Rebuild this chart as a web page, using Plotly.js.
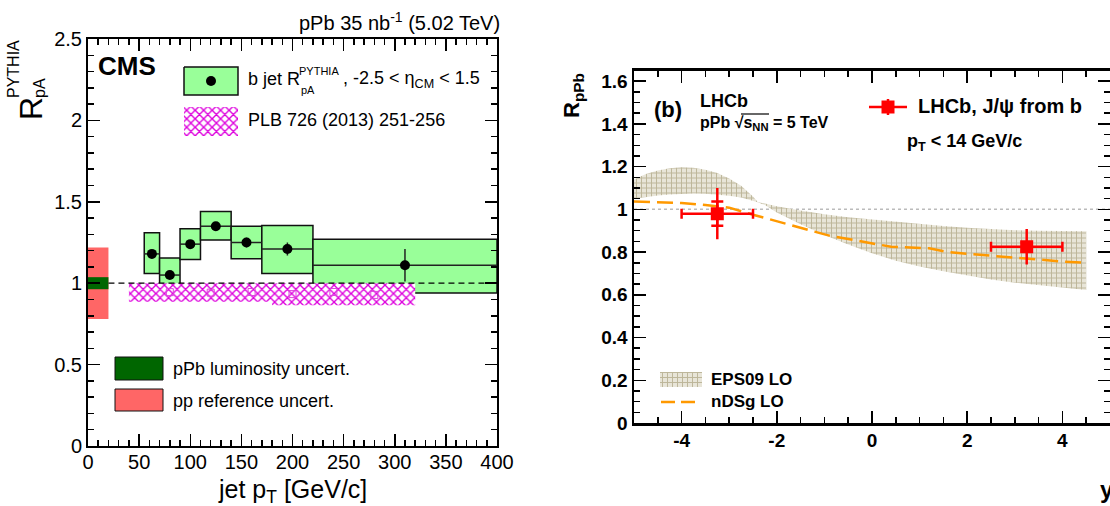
<!DOCTYPE html>
<html>
<head>
<meta charset="utf-8">
<script src="https://cdn.plot.ly/plotly-3.0.1.min.js"></script>
<style>
  html, body { margin: 0; padding: 0; background: #ffffff; }
  #chart { width: 1110px; height: 506px; }
</style>
</head>
<body>
<div id="chart"></div>
<script>
// ---------- (a) CMS: b-jet nuclear modification factor vs jet pT ----------
const binLow     = [55, 70, 90, 110, 140, 170, 220];
const binHigh    = [70, 90, 110, 140, 170, 220, 400];
const jetPt      = [62.5, 80, 100, 125, 155, 195, 310];
const rpA        = [1.18, 1.05, 1.24, 1.35, 1.25, 1.21, 1.11];
const rpAStat    = [0.02, 0.02, 0.025, 0.025, 0.03, 0.04, 0.10];
const rpASysUp   = [0.13, 0.105, 0.095, 0.09, 0.10, 0.145, 0.16];
const rpASysDown = [0.12, 0.11, 0.095, 0.085, 0.10, 0.15, 0.17];

// earlier measurement, PLB 726 (2013) 251-256
const plbEdges = [40, 100, 140, 180, 220, 260, 320];
const plbPt    = [80, 120, 160, 200, 240, 280];
const plbVal   = [0.945, 0.942, 0.946, 0.933, 0.946, 0.928];
const plbLow   = [0.886, 0.886, 0.886, 0.865, 0.865, 0.865];
const plbHigh  = [1.0, 1.0, 1.0, 1.0, 1.0, 1.0];

// global normalisation uncertainties, shown as boxes at low pT
const normPtRange = [0, 20];
const lumiUnc  = 0.037;
const ppRefUnc = 0.22;

// ---------- (b) LHCb: J/psi from b vs rapidity ----------
const rapidity     = [-3.25, 3.25];
const rapHalfWidth = [0.75, 0.75];
const rpPb         = [0.98, 0.825];
const rpPbTotal    = [0.12, 0.083];
const rpPbStat     = [0.057, 0.02];

// EPS09 LO band
const epsY    = [-5, -4.75, -4.5, -4.25, -4, -3.75, -3.5, -3.25, -3, -2.75, -2.5, -2.4, -2.25, -2, -1.5, -1, -0.5, 0, 0.5, 1, 1.5, 2, 2.5, 3, 3.5, 4, 4.5];
const epsHigh = [1.14, 1.165, 1.182, 1.193, 1.197, 1.195, 1.186, 1.17, 1.145, 1.11, 1.06, 1.035, 1.027, 1.015, 0.995, 0.977, 0.963, 0.952, 0.942, 0.932, 0.922, 0.914, 0.907, 0.902, 0.9, 0.898, 0.897];
const epsLow  = [1.05, 1.058, 1.065, 1.07, 1.073, 1.074, 1.073, 1.07, 1.064, 1.055, 1.04, 1.033, 1.02, 0.985, 0.93, 0.88, 0.835, 0.795, 0.76, 0.732, 0.71, 0.69, 0.672, 0.657, 0.645, 0.634, 0.623];

// nDSg LO curve
const ndsgY = [-5, -4, -3.5, -3, -2.5, -2, -1.7, -0.9, -0.5, 0, 0.4, 1.2, 1.6, 2, 2.5, 3, 3.3, 4, 4.5];
const ndsgR = [1.037, 1.03, 1.02, 1.008, 0.975, 0.945, 0.928, 0.877, 0.861, 0.84, 0.825, 0.818, 0.8, 0.792, 0.783, 0.773, 0.767, 0.756, 0.75];

// tick labels of the rapidity axis (plain hyphen minus)
const rapTickVals = [-4, -2, 0, 2, 4];
const rapTickText = ['-4', '-2', '0', '2', '4'];

// ---------- helpers ----------
const W = 1110, H = 506;
const px = v => v / W;
const py = v => 1 - v / H;
const FONT = 'Liberation Sans, Arial, Helvetica, sans-serif';

const magentaHatch = { shape: 'x', fgcolor: '#dd00dd', bgcolor: '#ffffff', size: 6, solidity: 0.4 };
const khakiHatch   = { shape: '+', fgcolor: '#bdb699', bgcolor: '#e8e5d8', size: 5, solidity: 0.35 };

function frameAxis(extra) {
  return Object.assign({
    showline: true, linecolor: 'black', linewidth: 2, mirror: 'allticks',
    ticks: 'inside', ticklen: 12, tickwidth: 1.5, tickcolor: 'black',
    showgrid: false, zeroline: false, fixedrange: true
  }, extra);
}
function minorTicks(d) {
  return { ticks: 'inside', ticklen: 6, tickwidth: 1.5, tickcolor: 'black', dtick: d, showgrid: false };
}
function ann(text, x, y, o) {
  return Object.assign({
    text: text, xref: 'paper', yref: 'paper', x: px(x), y: py(y),
    xanchor: 'left', yanchor: 'middle', showarrow: false,
    font: { family: FONT, size: 18, color: 'black' }
  }, o || {});
}

// ---------- traces, panel (a) ----------
const traces = [];

traces.push({
  type: 'bar', xaxis: 'x', yaxis: 'y',
  x: [(normPtRange[0] + normPtRange[1]) / 2], width: [normPtRange[1] - normPtRange[0]],
  base: [1 - ppRefUnc], y: [2 * ppRefUnc],
  marker: { color: '#ff6666', line: { width: 0 } }, hoverinfo: 'skip'
});
traces.push({
  type: 'bar', xaxis: 'x', yaxis: 'y',
  x: [(normPtRange[0] + normPtRange[1]) / 2], width: [normPtRange[1] - normPtRange[0]],
  base: [1 - lumiUnc], y: [2 * lumiUnc],
  marker: { color: '#006600', line: { width: 0 } }, hoverinfo: 'skip'
});

// systematic boxes
traces.push({
  type: 'bar', xaxis: 'x', yaxis: 'y',
  x: binLow.map((l, i) => (l + binHigh[i]) / 2),
  width: binLow.map((l, i) => binHigh[i] - l),
  base: rpA.map((v, i) => v - rpASysDown[i]),
  y: rpA.map((v, i) => rpASysUp[i] + rpASysDown[i]),
  marker: { color: '#99ff99', line: { color: '#111111', width: 1.5 } }, hoverinfo: 'skip'
});

// PLB band as a stepped outline
const plbX = [], plbYv = [];
for (let i = 0; i < plbPt.length; i++) { plbX.push(plbEdges[i], plbEdges[i + 1]); plbYv.push(plbHigh[i], plbHigh[i]); }
for (let i = plbPt.length - 1; i >= 0; i--) { plbX.push(plbEdges[i + 1], plbEdges[i]); plbYv.push(plbLow[i], plbLow[i]); }
traces.push({
  type: 'scatter', mode: 'lines', xaxis: 'x', yaxis: 'y',
  x: plbX, y: plbYv, fill: 'toself', fillcolor: '#ffffff', fillpattern: magentaHatch,
  line: { width: 0 }, hoverinfo: 'skip'
});
traces.push({
  type: 'scatter', mode: 'markers', xaxis: 'x', yaxis: 'y',
  x: plbPt, y: plbVal,
  marker: { symbol: 'square-open', size: 7, color: '#dd44dd', line: { width: 1 } }, hoverinfo: 'skip'
});

// b-jet points
traces.push({
  type: 'scatter', mode: 'markers', xaxis: 'x', yaxis: 'y',
  x: jetPt, y: rpA,
  marker: { symbol: 'circle', size: 10, color: 'black' },
  error_x: { type: 'data', symmetric: false,
             array: jetPt.map((p, i) => binHigh[i] - p),
             arrayminus: jetPt.map((p, i) => p - binLow[i]),
             color: '#222222', thickness: 1.5, width: 0 },
  error_y: { type: 'data', array: rpAStat, color: '#222222', thickness: 1.5, width: 0 },
  hoverinfo: 'skip'
});

// ---------- traces, panel (b) ----------
traces.push({
  type: 'scatter', mode: 'lines', xaxis: 'x2', yaxis: 'y2',
  x: epsY, y: epsLow, line: { width: 0 }, hoverinfo: 'skip'
});
traces.push({
  type: 'scatter', mode: 'lines', xaxis: 'x2', yaxis: 'y2',
  x: epsY, y: epsHigh, line: { width: 0 }, fill: 'tonexty',
  fillcolor: '#e8e5d8', fillpattern: khakiHatch, hoverinfo: 'skip'
});
traces.push({
  type: 'scatter', mode: 'lines', xaxis: 'x2', yaxis: 'y2',
  x: ndsgY, y: ndsgR, line: { color: '#ff9900', width: 2.5, dash: '16px,7px' }, hoverinfo: 'skip'
});
traces.push({
  type: 'scatter', mode: 'markers', xaxis: 'x2', yaxis: 'y2',
  x: rapidity, y: rpPb,
  marker: { symbol: 'square', size: 13, color: '#ff0000' },
  error_x: { type: 'data', array: rapHalfWidth, color: '#ff0000', thickness: 2.5, width: 5 },
  error_y: { type: 'data', array: rpPbTotal, color: '#ff0000', thickness: 2.5, width: 0 },
  hoverinfo: 'skip'
});
traces.push({
  type: 'scatter', mode: 'markers', xaxis: 'x2', yaxis: 'y2',
  x: rapidity, y: rpPb,
  marker: { size: 1, color: 'rgba(0,0,0,0)' },
  error_y: { type: 'data', array: rpPbStat, color: '#ff0000', thickness: 2.5, width: 6 },
  hoverinfo: 'skip'
});

// ---------- legend swatches (pixel-space overlay) ----------
function box(x0, y0, x1, y1, style) {
  return Object.assign({
    type: 'scatter', mode: 'lines', xaxis: 'x3', yaxis: 'y3',
    x: [x0, x1, x1, x0, x0], y: [y0, y0, y1, y1, y0], fill: 'toself', hoverinfo: 'skip'
  }, style);
}
traces.push(box(184, 67, 238, 95, { fillcolor: '#99ff99', line: { color: '#111111', width: 1.5 } }));
traces.push({ type: 'scatter', mode: 'markers', xaxis: 'x3', yaxis: 'y3', x: [211], y: [81],
              marker: { size: 10, color: 'black' }, hoverinfo: 'skip' });
traces.push(box(184, 107, 238, 136, { fillcolor: '#ffffff', fillpattern: magentaHatch, line: { width: 0 } }));
traces.push(box(115, 357, 163, 380, { fillcolor: '#006600', line: { color: '#111111', width: 1 } }));
traces.push(box(115, 389, 163, 411, { fillcolor: '#ff6666', line: { color: '#111111', width: 1 } }));
traces.push(box(660, 372, 702, 387, { fillcolor: '#e8e5d8', fillpattern: khakiHatch, line: { width: 0 } }));
traces.push({ type: 'scatter', mode: 'lines', xaxis: 'x3', yaxis: 'y3', x: [661, 701], y: [402, 402],
              line: { color: '#ff9900', width: 2.5, dash: '14px,6px' }, hoverinfo: 'skip' });
traces.push({ type: 'scatter', mode: 'markers', xaxis: 'x3', yaxis: 'y3', x: [888], y: [107],
              marker: { symbol: 'square', size: 13, color: '#ff0000' },
              error_x: { type: 'constant', value: 19, color: '#ff0000', thickness: 2.5, width: 0 },
              error_y: { type: 'constant', value: 8, color: '#ff0000', thickness: 2.5, width: 0 },
              hoverinfo: 'skip' });

// ---------- layout ----------
const layout = {
  width: W, height: H,
  margin: { l: 0, r: 0, t: 0, b: 0 },
  paper_bgcolor: '#ffffff', plot_bgcolor: 'rgba(0,0,0,0)',
  showlegend: false, barmode: 'overlay',
  font: { family: FONT, color: 'black' },
  xaxis: frameAxis({ domain: [px(88), px(497)], range: [0, 400], dtick: 50, ticklabelstandoff: -3,
                     minor: minorTicks(10), tickfont: { family: FONT, size: 20 } }),
  yaxis: frameAxis({ domain: [py(446), py(39)], range: [0, 2.5], dtick: 0.5,
                     minor: minorTicks(0.1), tickfont: { family: FONT, size: 20 } }),
  xaxis2: frameAxis({ anchor: 'y2', domain: [px(634), 1], range: [-5, 5], linewidth: 2.5,
                      tickvals: rapTickVals, ticktext: rapTickText, ticklabelstandoff: -1,
                      minor: minorTicks(0.5),
                      tickfont: { family: FONT, size: 19, weight: 'bold' } }),
  yaxis2: frameAxis({ anchor: 'x2', domain: [py(423), py(70.5)], range: [0, 1.65], dtick: 0.2, linewidth: 2.5,
                      minor: minorTicks(0.05), tickfont: { family: FONT, size: 19, weight: 'bold' } }),
  xaxis3: { domain: [0, 1], range: [0, W], visible: false, fixedrange: true, anchor: 'y3' },
  yaxis3: { domain: [0, 1], range: [H, 0], visible: false, fixedrange: true, anchor: 'x3' },
  shapes: [
    { type: 'line', xref: 'x', yref: 'y', x0: normPtRange[1], x1: 400, y0: 1, y1: 1,
      line: { color: 'black', width: 1.2, dash: '6px,4px' }, layer: 'above' },
    { type: 'line', xref: 'x2 domain', yref: 'y2', x0: 0, x1: 1, y0: 1, y1: 1,
      line: { color: '#bbbbbb', width: 1.5, dash: 'dot' }, layer: 'below' },
    { type: 'line', xref: 'paper', yref: 'paper', x0: px(741), x1: px(769), y0: py(114), y1: py(114),
      line: { color: 'black', width: 1.2 } }
  ],
  annotations: [
    // panel (a)
    ann('pPb 35 nb<sup>-1</sup> (5.02 TeV)', 502, 22, { xanchor: 'right', font: { family: FONT, size: 20 } }),
    ann('<b>CMS</b>', 96, 66, { font: { family: FONT, size: 26 } }),
    ann('b jet R', 246, 79, {}),
    ann('PYTHIA', 297, 71, { font: { family: FONT, size: 11 } }),
    ann('pA', 299, 90, { font: { family: FONT, size: 11 } }),
    ann(', -2.5 &lt; η<sub>CM</sub> &lt; 1.5', 341, 80, {}),
    ann('PLB 726 (2013) 251-256', 246, 120, {}),
    ann('pPb luminosity uncert.', 171, 369, {}),
    ann('pp reference uncert.', 171, 401, {}),
    ann('jet p<sub>T</sub> [GeV/c]', 292, 491, { xanchor: 'center', font: { family: FONT, size: 25 } }),
    ann('R', 31, 109, { xanchor: 'center', textangle: -90, font: { family: FONT, size: 32 } }),
    ann('PYTHIA', 13, 69, { xanchor: 'center', textangle: -90, font: { family: FONT, size: 16 } }),
    ann('pA', 39, 88, { xanchor: 'center', textangle: -90, font: { family: FONT, size: 16 } }),
    // panel (b)
    ann('<b>(b)</b>', 652, 110, { font: { family: FONT, size: 22 } }),
    ann('<b>LHCb</b>', 698, 101, { font: { family: FONT, size: 18 } }),
    ann('<b>pPb √s<sub>NN</sub> = 5 TeV</b>', 698, 123, { font: { family: FONT, size: 16 } }),
    ann('<b>LHCb, J/ψ from b</b>', 916, 106, { font: { family: FONT, size: 20 } }),
    ann('<b>p<sub>T</sub> &lt; 14 GeV/c</b>', 905, 143, { font: { family: FONT, size: 18 } }),
    ann('<b>EPS09 LO</b>', 709, 379, { font: { family: FONT, size: 17 } }),
    ann('<b>nDSg LO</b>', 709, 401, { font: { family: FONT, size: 17 } }),
    ann('<b>R<sub>pPb</sub></b>', 573, 95, { xanchor: 'center', textangle: -90, font: { family: FONT, size: 22 } }),
    ann('<b>y</b>', 1098, 489, { font: { family: FONT, size: 24 } })
  ]
};

Plotly.newPlot('chart', traces, layout, { staticPlot: true, displayModeBar: false });
</script>
</body>
</html>
